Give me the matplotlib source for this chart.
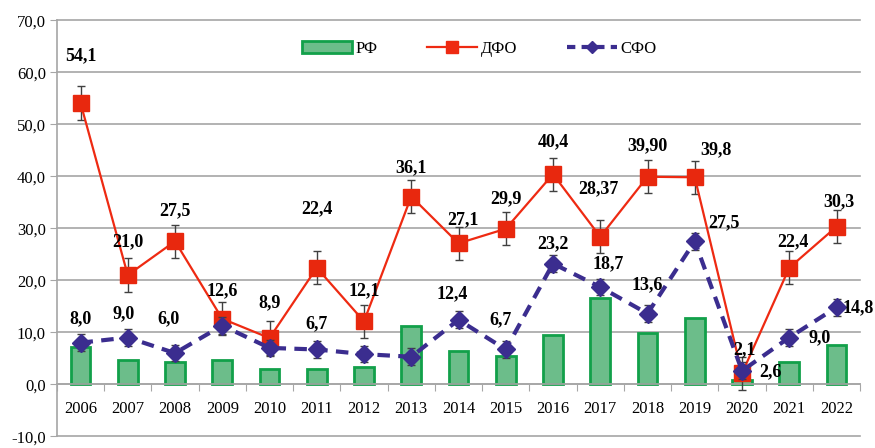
import matplotlib
matplotlib.use("Agg")
import matplotlib.pyplot as plt
import numpy as np
from matplotlib.lines import Line2D
from matplotlib.patches import Patch

years = [str(y) for y in range(2006, 2023)]
rf = [7.1, 4.6, 4.2, 4.7, 2.9, 3.0, 3.4, 11.3, 6.5, 5.5, 9.5, 16.5, 9.8, 12.7, 0.8, 4.2, 7.5]
dfo = [54.1, 21.0, 27.5, 12.6, 8.9, 22.4, 12.1, 36.1, 27.1, 29.9, 40.4, 28.37, 39.9, 39.8, 2.1, 22.4, 30.3]
dfo_labels = ["54,1", "21,0", "27,5", "12,6", "8,9", "22,4", "12,1", "36,1", "27,1", "29,9",
              "40,4", "28,37", "39,90", "39,8", "2,1", "22,4", "30,3"]
sfo = [8.0, 9.0, 6.0, 11.3, 7.0, 6.7, 5.8, 5.3, 12.4, 6.7, 23.2, 18.7, 13.6, 27.5, 2.6, 9.0, 14.8]
sfo_labels = ["8,0", "9,0", "6,0", None, None, "6,7", None, None, "12,4", "6,7",
              "23,2", "18,7", "13,6", "27,5", "2,6", "9,0", "14,8"]
dfo_err = 3.2
sfo_err = 1.6
yticks = [-10, 0, 10, 20, 30, 40, 50, 60, 70]

# label offsets in pixels (dx, dy up)
dfo_off = [(0, 47), (0, 33), (0, 31), (0, 28), (0, 35), (0, 59), (0, 31), (0, 29), (4, 24),
           (0, 30), (0, 32), (-2, 48), (0, 31), (21, 28), (2, 24), (4, 26), (2, 25)]
sfo_off = [(0, 24), (-4, 24), (-6, 34), (0, 0), (0, 0), (0, 26), (0, 0), (0, 0), (-6, 26),
           (-5, 30), (0, 20), (8, 23), (0, 29), (29, 19), (28, -1), (30, 0), (22, 0)]

plt.rcParams['font.family'] = ['Liberation Serif', 'DejaVu Serif']

fig = plt.figure(figsize=(8.75, 4.48), dpi=100)
ax = fig.add_axes([0.065, 0.026, 0.918, 0.929])
x = np.arange(len(years))

ax.set_ylim(-10, 70)
ax.set_xlim(-0.5, len(years) - 0.5)
ax.set_yticks(yticks)
ax.set_yticklabels([f"{v:.1f}".replace('.', ',') for v in yticks], fontsize=12)
ax.yaxis.grid(True, color='#a6a6a6', linewidth=1.2)
for gl in ax.yaxis.get_gridlines():
    gl.set_clip_on(False)
ax.set_axisbelow(True)

for s in ['top', 'right']:
    ax.spines[s].set_visible(False)
ax.spines['left'].set_color('#a6a6a6')
ax.spines['left'].set_linewidth(1.2)
ax.spines['bottom'].set_position(('data', 0))
ax.spines['bottom'].set_color('#a6a6a6')
ax.spines['bottom'].set_linewidth(1.2)
ax.tick_params(axis='y', length=5, color='#a6a6a6', pad=3)

ax.set_xticks(np.arange(-0.5, len(years), 1.0))
ax.set_xticklabels([])
ax.tick_params(axis='x', which='major', length=5, color='#a6a6a6')
ax.set_xticks(x, minor=True)
ax.set_xticklabels(years, minor=True, fontsize=12)
ax.tick_params(axis='x', which='minor', length=0, pad=12)

ax.bar(x, rf, width=0.42, color='#6cbd8a', edgecolor='#12a04a', linewidth=2, zorder=2)

ax.errorbar(x, dfo, yerr=dfo_err, color='#ee2a12', linewidth=1.6, marker='s', markersize=12,
            markerfacecolor='#e8280e', markeredgecolor='#e8280e', ecolor='#404040',
            elinewidth=1, capsize=3, zorder=3)
ax.errorbar(x, sfo, yerr=sfo_err, color='#3b2d8f', linewidth=3, linestyle=(0, (3, 2)),
            marker='D', markersize=9, markerfacecolor='#3b2d8f', markeredgecolor='#3b2d8f',
            ecolor='#404040', elinewidth=1, capsize=3, zorder=4)

for i, (v, lab) in enumerate(zip(dfo, dfo_labels)):
    dx, dy = dfo_off[i]
    ax.annotate(lab, (x[i], v), xytext=(dx * 0.72, dy * 0.72), textcoords='offset points',
                ha='center', va='center', fontsize=13, fontweight='bold', zorder=6)
for i, (v, lab) in enumerate(zip(sfo, sfo_labels)):
    if lab is None:
        continue
    dx, dy = sfo_off[i]
    ax.annotate(lab, (x[i], v), xytext=(dx * 0.72, dy * 0.72), textcoords='offset points',
                ha='center', va='center', fontsize=13, fontweight='bold', zorder=6)

handles = [
    Patch(facecolor='#6cbd8a', edgecolor='#12a04a', linewidth=2),
    Line2D([], [], color='#ee2a12', linewidth=1.6, marker='s', markersize=8),
    Line2D([], [], color='#3b2d8f', linewidth=3, linestyle=(0, (2, 1.5)), marker='D', markersize=6),
]
leg = ax.legend(handles, ['РФ', 'ДФО', 'СФО'], loc='upper center', bbox_to_anchor=(0.526, 0.995),
                ncol=3, frameon=True, fontsize=12, handlelength=3.0, columnspacing=3.0,
                handletextpad=0.2, borderpad=0.6)
leg.get_frame().set_edgecolor('none')
leg.get_frame().set_facecolor('white')
leg.get_frame().set_alpha(1)

fig.savefig('out.png', dpi=100)
